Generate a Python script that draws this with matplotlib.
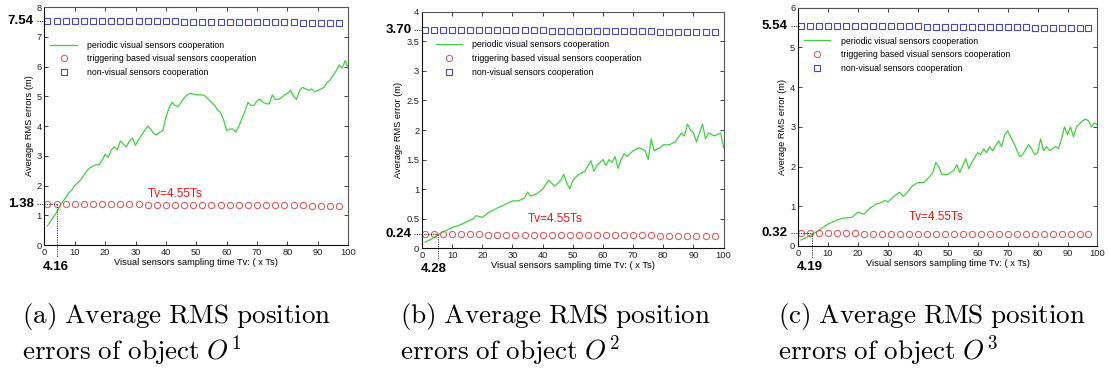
import numpy as np
import matplotlib
matplotlib.use("Agg")
from matplotlib import pyplot as plt

plt.rcParams['font.family'] = ['Liberation Sans', 'DejaVu Sans']
plt.rcParams['mathtext.fontset'] = 'cm'

# marker positions (shared)
mark_x = list(range(1, 98, 3))

# panel (a)
per_x_a = list(range(1, 101))
per_y_a = [0.65, 0.8, 0.95, 1.1, 1.3, 1.45, 1.6, 1.75, 1.85, 2.0,
           2.1, 2.2, 2.35, 2.5, 2.6, 2.65, 2.7, 2.7, 2.85, 3.05,
           2.95, 3.2, 3.3, 3.2, 3.5, 3.4, 3.3, 3.5, 3.6, 3.35,
           3.55, 3.7, 3.85, 4.0, 3.9, 3.75, 3.7, 3.8, 3.85, 4.3,
           4.6, 4.8, 4.7, 4.65, 4.8, 4.95, 5.05, 5.1, 5.08, 5.05,
           5.05, 5.05, 5.0, 4.9, 4.8, 4.7, 4.55, 4.45, 4.2, 3.85,
           3.9, 3.9, 3.8, 4.0, 4.25, 4.5, 4.8, 4.7, 4.7, 4.85,
           4.9, 4.8, 4.75, 4.75, 5.05, 4.9, 4.9, 4.95, 5.05, 5.1,
           5.2, 5.0, 4.9, 5.2, 5.3, 5.25, 5.2, 5.25, 5.15, 5.2,
           5.25, 5.3, 5.45, 5.55, 5.7, 5.85, 6.05, 5.95, 6.2, 5.95]
trig_a = [1.38, 1.38, 1.38, 1.38, 1.38, 1.38, 1.37, 1.37, 1.37, 1.37, 1.37,
          1.36, 1.36, 1.36, 1.36, 1.36, 1.35, 1.35, 1.35, 1.35, 1.35, 1.35,
          1.34, 1.34, 1.34, 1.34, 1.34, 1.34, 1.34, 1.33, 1.33, 1.33, 1.33]
nonv_a = [7.54, 7.54, 7.54, 7.54, 7.54, 7.54, 7.54, 7.54, 7.54, 7.54, 7.54,
          7.54, 7.54, 7.54, 7.53, 7.51, 7.50, 7.50, 7.50, 7.50, 7.50, 7.50,
          7.49, 7.49, 7.49, 7.49, 7.49, 7.49, 7.48, 7.48, 7.48, 7.48, 7.48]

# panel (b)
per_x_b = [1, 3, 5, 8, 10, 12, 15, 17, 18, 20, 22, 25, 28, 30, 32, 34, 35, 36,
           38, 40, 42, 44, 46, 47, 48, 49, 50, 52, 54, 56, 57, 58, 60, 61, 62,
           63, 64, 65, 66, 67, 68, 70, 72, 74, 75, 76, 77, 79, 80, 82, 84, 86,
           87, 88, 89, 90, 91, 92, 93, 94, 95, 97, 99, 100]
per_y_b = [0.1, 0.15, 0.22, 0.3, 0.35, 0.38, 0.45, 0.5, 0.55, 0.52, 0.6, 0.68,
           0.75, 0.8, 0.8, 0.85, 0.95, 0.88, 0.92, 1.0, 1.15, 1.05, 1.15, 1.25,
           1.1, 1.0, 1.15, 1.25, 1.3, 1.48, 1.3, 1.4, 1.5, 1.4, 1.5, 1.45, 1.55,
           1.35, 1.5, 1.6, 1.55, 1.65, 1.7, 1.65, 1.5, 1.85, 1.65, 1.7, 1.75,
           1.75, 1.8, 1.95, 1.9, 2.1, 2.0, 1.95, 1.8, 1.95, 2.1, 1.85, 1.95,
           1.9, 1.95, 1.7]
trig_b = [0.24, 0.24, 0.24, 0.24, 0.24, 0.24, 0.24, 0.23, 0.23, 0.23, 0.23,
          0.23, 0.23, 0.23, 0.23, 0.23, 0.22, 0.22, 0.22, 0.22, 0.22, 0.22,
          0.22, 0.22, 0.22, 0.22, 0.21, 0.21, 0.21, 0.21, 0.21, 0.21, 0.21]
nonv_b = [3.70, 3.70, 3.70, 3.70, 3.70, 3.70, 3.70, 3.70, 3.69, 3.69, 3.69,
          3.69, 3.69, 3.69, 3.68, 3.68, 3.68, 3.68, 3.68, 3.68, 3.67, 3.67,
          3.67, 3.67, 3.67, 3.67, 3.66, 3.66, 3.66, 3.66, 3.66, 3.66, 3.66]

# panel (c)
per_x_c = [1, 3, 5, 8, 10, 13, 15, 18, 20, 22, 24, 26, 28, 29, 30, 32, 34, 35,
           36, 38, 40, 42, 44, 45, 46, 47, 48, 50, 52, 53, 54, 56, 57, 58, 60,
           61, 62, 63, 64, 65, 67, 68, 69, 70, 72, 74, 75, 77, 78, 79, 80, 81,
           82, 83, 84, 86, 87, 88, 89, 90, 91, 92, 93, 95, 96, 97, 98, 99, 100]
per_y_c = [0.15, 0.22, 0.3, 0.45, 0.55, 0.65, 0.7, 0.72, 0.85, 0.8, 0.95,
           1.05, 1.1, 1.15, 1.1, 1.25, 1.35, 1.25, 1.3, 1.5, 1.6, 1.6, 1.75,
           1.85, 2.1, 2.0, 1.8, 1.8, 1.9, 2.05, 1.85, 2.2, 1.95, 2.1, 2.35, 2.3,
           2.45, 2.35, 2.5, 2.4, 2.65, 2.5, 2.8, 2.9, 2.6, 2.25, 2.3, 2.55, 2.45,
           2.3, 2.35, 2.7, 2.4, 2.5, 2.4, 2.5, 2.45, 2.7, 3.0, 2.8, 3.0, 2.75,
           3.0, 3.15, 3.2, 3.15, 3.0, 3.1, 3.05]
trig_c = [0.32, 0.32, 0.32, 0.32, 0.32, 0.32, 0.32, 0.31, 0.31, 0.31, 0.31,
          0.31, 0.31, 0.31, 0.31, 0.31, 0.30, 0.30, 0.30, 0.30, 0.30, 0.30,
          0.30, 0.30, 0.30, 0.30, 0.29, 0.29, 0.29, 0.29, 0.29, 0.29, 0.29]
nonv_c = [5.54, 5.54, 5.54, 5.54, 5.54, 5.54, 5.54, 5.54, 5.53, 5.53, 5.53,
          5.53, 5.53, 5.53, 5.52, 5.52, 5.52, 5.52, 5.52, 5.52, 5.51, 5.51,
          5.51, 5.51, 5.51, 5.51, 5.50, 5.50, 5.50, 5.50, 5.50, 5.50, 5.50]

labels = ['periodic visual sensors cooperation',
          'triggering based visual sensors cooperation',
          'non-visual sensors cooperation']
ylabels = ['Average RMS errors (m)', 'Average RMS error (m)', 'Average RMS error (m)']
captions = [('a', '1'), ('b', '2'), ('c', '3')]

panels = [
    dict(px=per_x_a, py=per_y_a, trig=trig_a, nonv=nonv_a, ymax=8,
         yticks=[0, 1, 2, 3, 4, 5, 6, 7, 8], ytl=['0', '1', '2', '3', '4', '5', '6', '7', '8'],
         top_val='7.54', bot_val='1.38', cross='4.16', top=7.54, bot=1.38, cx=4.16,
         tv=(34, 1.72), rect=[0.040, 0.341, 0.274, 0.640], leg=(0.0, 0.885)),
    dict(px=per_x_b, py=per_y_b, trig=trig_b, nonv=nonv_b, ymax=4,
         yticks=[0, 0.5, 1, 1.5, 2, 2.5, 3, 3.5, 4], ytl=['0', '0.5', '1', '1.5', '2', '2.5', '3', '3.5', '4'],
         top_val='3.70', bot_val='0.24', cross='4.28', top=3.70, bot=0.24, cx=5.3,
         tv=(35, 0.5), rect=[0.3805, 0.333, 0.272, 0.635], leg=(0.025, 0.905)),
    dict(px=per_x_c, py=per_y_c, trig=trig_c, nonv=nonv_c, ymax=6,
         yticks=[0, 1, 2, 3, 4, 5, 6], ytl=['0', '1', '2', '3', '4', '5', '6'],
         top_val='5.54', bot_val='0.32', cross='4.19', top=5.54, bot=0.32, cx=4.8,
         tv=(37, 0.73), rect=[0.7196, 0.339, 0.270, 0.640], leg=(0.0, 0.905)),
]

fig = plt.figure(figsize=(11.09, 3.72), dpi=100)

for i, p in enumerate(panels):
    ax = fig.add_axes(p['rect'])
    ax.plot(p['px'], p['py'], color='#3fd23f', lw=0.9, label=labels[0])
    ax.plot(mark_x, p['trig'], ls='none', marker='o', ms=4.5, mfc='none',
            mec='#e06060', mew=0.8, label=labels[1])
    ax.plot(mark_x, p['nonv'], ls='none', marker='s', ms=4.3, mfc='none',
            mec='#4747c0', mew=0.8, label=labels[2])
    ax.set_xlim(0, 100)
    ax.set_ylim(0, p['ymax'])
    ax.set_xticks(range(0, 101, 10))
    ax.set_yticks(p['yticks'])
    ax.set_yticklabels(p['ytl'])
    ax.tick_params(direction='in', top=True, right=True, labelsize=6.7,
                   length=3, width=0.6, pad=2, colors='#222222')
    for s in ax.spines.values():
        s.set_linewidth(0.8)
        s.set_color('#555555')
    ax.spines['left'].set_color('#111111')
    ax.spines['bottom'].set_color('#111111')
    ax.set_xlabel('Visual sensors sampling time Tv: ( x Ts)', fontsize=6.7, labelpad=1)
    ax.set_ylabel(ylabels[i], fontsize=6.7, labelpad=2)
    ax.legend(loc='upper left', bbox_to_anchor=p['leg'], frameon=False,
              fontsize=6.3, handlelength=3.0, handletextpad=1.2,
              labelspacing=0.55, borderaxespad=0.3)

    # reference level annotations
    ax.plot([-2.5, 0.5], [p['top'], p['top']], ls=(0, (1.2, 1.2)), color='#333333',
            lw=0.7, clip_on=False)
    ax.plot([-2.5, p['cx']], [p['bot'], p['bot']], ls=(0, (1.2, 1.2)), color='#333333',
            lw=0.7, clip_on=False)
    ax.plot([p['cx'], p['cx']], [p['bot'], -0.05 * p['ymax']], ls=(0, (1.2, 1.2)),
            color='#333333', lw=0.7, clip_on=False)
    ax.text(-3.5, p['top'], p['top_val'], ha='right', va='center', fontsize=9.5,
            fontweight='bold')
    ax.text(-3.5, p['bot'], p['bot_val'], ha='right', va='center', fontsize=9.5,
            fontweight='bold')
    ax.text(3.8, -0.065 * p['ymax'], p['cross'], ha='center', va='top', fontsize=9.5,
            fontweight='bold')
    ax.text(p['tv'][0], p['tv'][1], 'Tv=4.55Ts', color='#ff1010', fontsize=8.5,
            ha='left', va='center')

    # caption below the panel
    letter, sup = captions[i]
    cx0 = [22, 400, 778][i] / 1109
    fig.text(cx0, 1 - 316 / 372, r'$\mathrm{(%s)\ Average\ RMS\ position}$' % letter,
             fontsize=19.5, ha='left', va='center')
    fig.text(cx0, 1 - 351 / 372, r'$\mathrm{errors\ of\ object\ }O^{%s}$' % sup,
             fontsize=19.5, ha='left', va='center')

fig.savefig('out.png', dpi=100)
